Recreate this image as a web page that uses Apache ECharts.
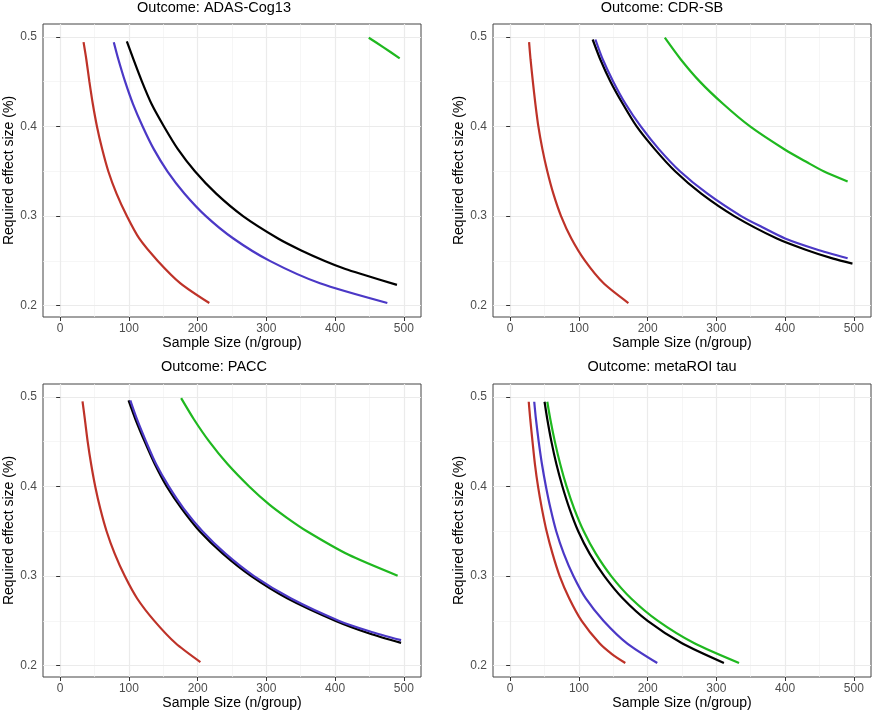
<!DOCTYPE html>
<html><head><meta charset="utf-8">
<script src="https://cdn.jsdelivr.net/npm/echarts@6/dist/echarts.min.js"></script>
<style>html,body{margin:0;padding:0;background:#fff}#c{width:875px;height:714px}</style>
</head><body><div id="c"></div>
<script>
// ---- data ----
const panelTitles = ['Outcome: ADAS-Cog13', 'Outcome: CDR-SB', 'Outcome: PACC', 'Outcome: metaROI tau'];
const xTicks = [0, 100, 200, 300, 400, 500];
const xMinor = [50, 150, 250, 350, 450];
const yTicks = [0.2, 0.3, 0.4, 0.5];
const yMinor = [0.25, 0.35, 0.45];
const xTitle = 'Sample Size (n/group)';
const yTitle = 'Required effect size (%)';

// [sample size per group, required effect size]
const adasBlack = [[97,0.495],[106.5,0.475],[119,0.45],[133,0.425],[151,0.40],[171,0.375],[196,0.35],[227,0.325],[266,0.30],[317,0.275],[350,0.262],[385,0.25],[415,0.241],[444,0.234],[490,0.2232]];
const adasRed   = [[34,0.494],[38,0.475],[42.5,0.45],[47.5,0.425],[53.5,0.40],[61,0.375],[70,0.35],[82,0.325],[97,0.30],[115,0.275],[142,0.25],[175,0.225],[217,0.203]];
const adasBlue  = [[78,0.494],[84.6,0.475],[94.5,0.45],[106,0.425],[120,0.40],[136,0.375],[156,0.35],[181,0.325],[212,0.30],[252,0.275],[305,0.25],[378,0.225],[476,0.203]];
const adasGreen = [[449,0.499],[471,0.488],[494,0.476]];

const cdrBlack = [[120,0.497],[131,0.475],[146,0.45],[164,0.425],[184,0.40],[210,0.375],[240,0.35],[278,0.325],[326,0.30],[388,0.275],[430,0.2625],[470,0.2525],[498,0.247]];
const cdrRed   = [[27.5,0.494],[29.6,0.475],[33,0.45],[36.7,0.425],[41,0.40],[46.8,0.375],[54,0.35],[62.8,0.325],[74,0.30],[89,0.275],[109,0.25],[136,0.225],[172,0.203]];
const cdrBlue  = [[124,0.497],[134.6,0.475],[150,0.45],[168,0.425],[190,0.40],[216,0.375],[247,0.35],[287,0.325],[336,0.30],[367,0.2875],[400,0.275],[445,0.263],[491,0.2529]];
const cdrGreen = [[225,0.499],[248,0.475],[276,0.45],[310,0.425],[349,0.40],[400,0.374],[432,0.36],[456,0.35],[491,0.3386]];

const paccBlack = [[99.5,0.496],[109.5,0.475],[123,0.45],[137.6,0.425],[155,0.40],[177,0.375],[203,0.35],[236.6,0.325],[278,0.30],[331,0.275],[401,0.25],[450,0.236],[496,0.2255]];
const paccRed   = [[32.5,0.495],[35.9,0.475],[40,0.45],[45,0.425],[51,0.40],[58.4,0.375],[67.5,0.35],[79.3,0.325],[94,0.30],[112,0.275],[137,0.25],[168,0.225],[204,0.204]];
const paccBlue  = [[102,0.496],[111.7,0.475],[125,0.45],[139.5,0.425],[158,0.40],[180,0.375],[207,0.35],[240.5,0.325],[282,0.30],[336,0.275],[406,0.25],[450,0.2385],[496,0.2285]];
const paccGreen = [[176,0.4985],[194.5,0.475],[217,0.45],[243.5,0.425],[275,0.40],[304,0.38],[330,0.365],[359,0.35],[419,0.324],[491,0.3004]];

const tauBlack = [[50,0.4945],[54,0.475],[60,0.45],[67.2,0.425],[76,0.40],[86.4,0.375],[99,0.35],[115.6,0.325],[137,0.30],[164,0.275],[200,0.25],[250,0.225],[311,0.203]];
const tauRed   = [[27,0.4945],[29.2,0.475],[32.5,0.45],[36,0.425],[40.5,0.40],[46.2,0.375],[53,0.35],[61.6,0.325],[72,0.30],[86,0.275],[104,0.25],[130,0.225],[148,0.213],[167.5,0.203]];
const tauBlue  = [[35,0.4945],[37.5,0.475],[41.5,0.45],[46.2,0.425],[52,0.40],[58.8,0.375],[67,0.35],[78,0.325],[92,0.30],[110,0.275],[136,0.25],[170,0.225],[214,0.203]];
const tauGreen = [[54,0.4945],[58.4,0.475],[65,0.45],[72.75,0.425],[82,0.40],[93.2,0.375],[107,0.35],[124.6,0.325],[147,0.30],[176,0.275],[215,0.25],[268,0.225],[333,0.203]];

const panelCurves = [
  [adasBlack, adasRed, adasBlue, adasGreen],
  [cdrBlack, cdrRed, cdrBlue, cdrGreen],
  [paccBlack, paccRed, paccBlue, paccGreen],
  [tauBlack, tauRed, tauBlue, tauGreen]
];
const curveNames = ['black', 'red', 'blue', 'green'];
const curveColors = ['#000000', '#BE3228', '#4B38C6', '#1FB81F'];

// ---- layout ----
const grids = [
  {left: 43, top: 24, width: 378, height: 293},
  {left: 493, top: 24, width: 378, height: 293},
  {left: 43, top: 384, width: 378, height: 293},
  {left: 493, top: 384, width: 378, height: 293}
];
const titleCenters = [[214, 0], [662, 0], [214, 359], [662, 359]];
const FONT = 'Liberation Sans, Arial, sans-serif';

const option = {
  backgroundColor: '#ffffff',
  animation: false,
  title: [], grid: [], xAxis: [], yAxis: [], series: []
};

grids.forEach((g, i) => {
  option.grid.push(Object.assign({show: true, borderColor: '#444', borderWidth: 1, backgroundColor: '#ffffff', containLabel: false}, g));
  option.title.push({
    text: panelTitles[i], left: titleCenters[i][0], top: titleCenters[i][1], textAlign: 'center', padding: 0,
    textStyle: {fontFamily: FONT, fontSize: 14.5, fontWeight: 'normal', color: '#000'}
  });
  option.xAxis.push({
    type: 'value', gridIndex: i, min: -25, max: 525, position: 'bottom',
    name: xTitle, nameLocation: 'middle', nameGap: 18,
    nameTextStyle: {fontFamily: FONT, fontSize: 14, color: '#000', verticalAlign: 'top'},
    axisLine: {show: false},
    axisTick: {show: true, length: 4, customValues: xTicks, lineStyle: {color: '#333', width: 1}},
    axisLabel: {customValues: xTicks, fontFamily: FONT, fontSize: 12, color: '#4d4d4d', margin: 6},
    splitLine: {show: true, lineStyle: {color: '#EBEBEB', width: 1.2}},
    z: 1
  });
  option.xAxis.push({
    type: 'value', gridIndex: i, min: -25, max: 525, position: 'top',
    axisLine: {show: false}, axisTick: {show: false, customValues: xMinor},
    axisLabel: {show: false, customValues: xMinor},
    splitLine: {show: true, lineStyle: {color: '#F2F2F2', width: 0.7}},
    z: 0
  });
  option.yAxis.push({
    type: 'value', gridIndex: i, min: 0.1874, max: 0.5143, position: 'left',
    name: yTitle, nameLocation: 'middle', nameGap: 26, nameRotate: 90,
    nameTextStyle: {fontFamily: FONT, fontSize: 14, color: '#000'},
    axisLine: {show: false},
    axisTick: {show: true, length: 4, customValues: yTicks, lineStyle: {color: '#333', width: 1}},
    axisLabel: {customValues: yTicks, fontFamily: FONT, fontSize: 12, color: '#4d4d4d', margin: 6,
      formatter: v => v.toFixed(1)},
    splitLine: {show: true, lineStyle: {color: '#EBEBEB', width: 1.2}},
    z: 1
  });
  option.yAxis.push({
    type: 'value', gridIndex: i, min: 0.1874, max: 0.5143, position: 'right',
    axisLine: {show: false}, axisTick: {show: false, customValues: yMinor},
    axisLabel: {show: false, customValues: yMinor},
    splitLine: {show: true, lineStyle: {color: '#F2F2F2', width: 0.7}},
    z: 0
  });
  panelCurves[i].forEach((data, k) => {
    option.series.push({
      type: 'line', name: curveNames[k], xAxisIndex: 2 * i, yAxisIndex: 2 * i,
      data: data, showSymbol: false, symbol: 'none', smooth: 0.25,
      lineStyle: {color: curveColors[k], width: 2.2, cap: 'butt'},
      itemStyle: {color: curveColors[k]}, silent: true, z: 3 + k
    });
  });
});

const chart = echarts.init(document.getElementById('c'), null, {renderer: 'canvas'});
chart.setOption(option);
</script>
</body></html>
